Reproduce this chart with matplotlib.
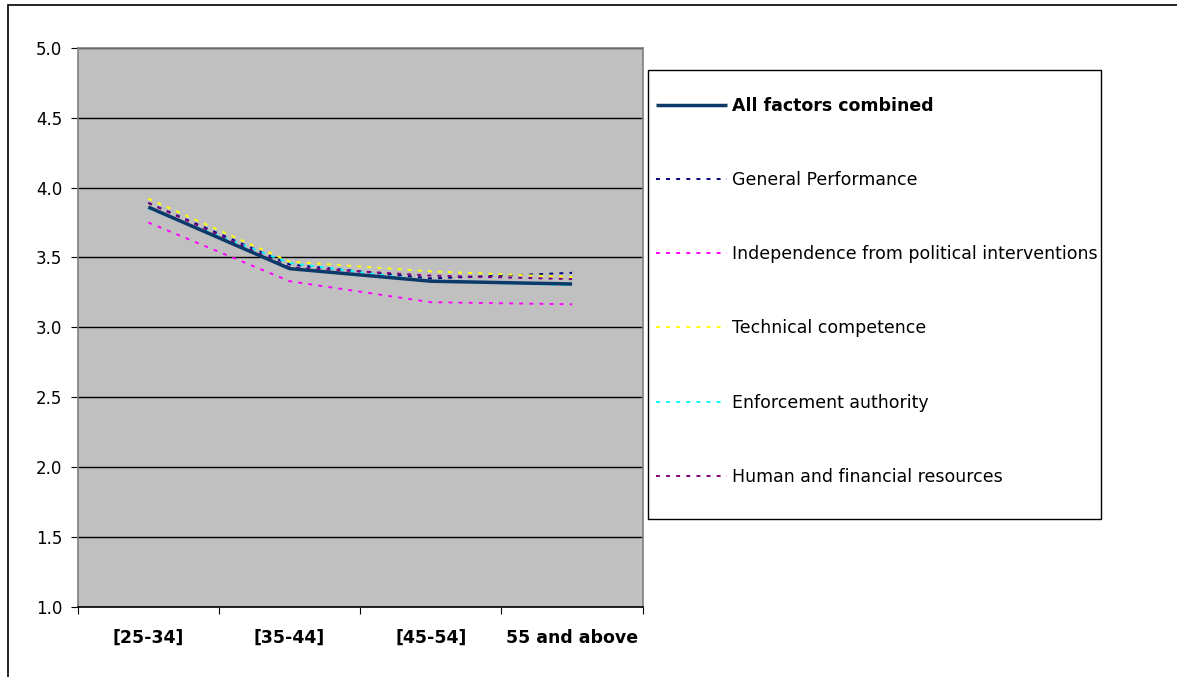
import matplotlib
matplotlib.use("Agg")
import matplotlib.pyplot as plt
from matplotlib.patches import Rectangle

plt.rcParams['font.family'] = ['DejaVu Sans']

# Age groups on the horizontal axis
age_groups = ["[25-34]", "[35-44]", "[45-54]", "55 and above"]

# Mean scores per age group
all_factors = [3.86, 3.42, 3.33, 3.31]
general_performance = [3.89, 3.45, 3.35, 3.39]
independence = [3.75, 3.33, 3.18, 3.165]
technical = [3.92, 3.47, 3.40, 3.36]
enforcement = [3.85, 3.46, 3.33, 3.30]
resources = [3.89, 3.43, 3.37, 3.345]

series_labels = [
    "All factors combined",
    "General Performance",
    "Independence from political interventions",
    "Technical competence",
    "Enforcement authority",
    "Human and financial resources",
]

y_ticks = [1.0, 1.5, 2.0, 2.5, 3.0, 3.5, 4.0, 4.5, 5.0]

W, H = 1177, 677
FS = 12
LFS = 12.5
fig = plt.figure(figsize=(W / 100, H / 100), dpi=100)

# Outer frame of the chart
fig.patches.append(Rectangle((8 / W, -0.1), 1.2, 1 - 5 / H + 0.1,
                             transform=fig.transFigure, fill=False,
                             edgecolor='black', linewidth=1.2))

ax = fig.add_axes([77.7 / W, (H - 607) / H, 565 / W, 559.3 / H])
ax.set_facecolor('#C0C0C0')

x = list(range(len(age_groups)))
dash = (0, (2.0, 3.2))
lines = []
lines += ax.plot(x, general_performance, color='#000080', lw=1.4, linestyle=dash)
lines += ax.plot(x, independence, color='#FF00FF', lw=1.4, linestyle=dash)
lines += ax.plot(x, technical, color='#FFFF00', lw=1.4, linestyle=dash)
lines += ax.plot(x, enforcement, color='#00FFFF', lw=1.4, linestyle=dash)
lines += ax.plot(x, resources, color='#800080', lw=1.4, linestyle=dash)
main = ax.plot(x, all_factors, color='#0B3A6A', lw=2.5, solid_capstyle='butt')
handles = main + lines

ax.set_xlim(-0.5, 3.5)
ax.set_ylim(1.0, 5.0)
ax.set_yticks(y_ticks)
ax.set_yticklabels([f"{v:.1f}" for v in y_ticks], fontsize=FS)
ax.yaxis.grid(True, color='black', linewidth=1.0)
ax.set_axisbelow(True)

# Category boundaries carry tick marks, labels sit at category centres
ax.set_xticks([i - 0.5 for i in range(len(age_groups) + 1)])
ax.set_xticklabels([])
ax.set_xticks(x, minor=True)
ax.set_xticklabels(age_groups, minor=True, fontsize=LFS, fontweight='bold')
ax.tick_params(axis='x', which='minor', length=0, pad=15.5)
ax.tick_params(axis='x', which='major', length=5, color='black', direction='out')
ax.tick_params(axis='y', length=5, color='black', direction='out', pad=6)

for side in ('top', 'left', 'right'):
    ax.spines[side].set_color('#808080')
    ax.spines[side].set_linewidth(1.2)
ax.spines['bottom'].set_color('black')
ax.spines['bottom'].set_linewidth(1.2)

# Legend box drawn separately so the inner padding can differ per side
fig.patches.append(Rectangle((648 / W, 1 - 519 / H), (1101 - 648) / W, (519 - 70) / H,
                             transform=fig.transFigure, facecolor='white',
                             edgecolor='black', linewidth=1.0, zorder=1))

leg = fig.legend(handles, series_labels, loc='upper left',
                 bbox_to_anchor=(656 / W, 1 - 97 / H),
                 fontsize=LFS, frameon=False, borderpad=0,
                 labelspacing=3.235, handlelength=4.1, handletextpad=0.3,
                 borderaxespad=0)
leg.set_zorder(2)
leg.get_texts()[0].set_fontweight('bold')

fig.savefig('out.png', dpi=100)
